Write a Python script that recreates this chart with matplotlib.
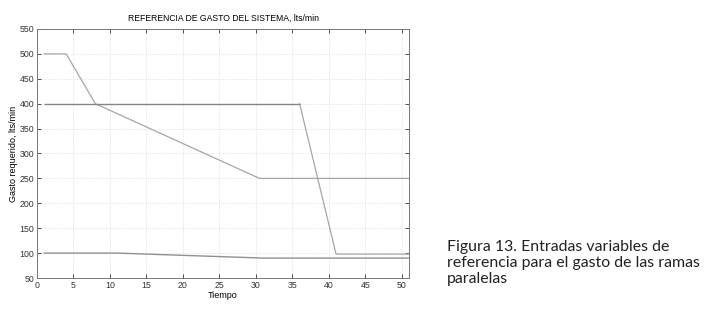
import matplotlib
matplotlib.use("Agg")
import matplotlib.pyplot as plt

t_a = [1, 4, 8, 30.5, 51]
q_a = [500, 500, 400, 250, 250]
t_b = [1, 36, 41, 51]
q_b = [400, 400, 98, 98]
t_c = [1, 11, 31, 51]
q_c = [100, 100, 90, 90]
xticks = list(range(0, 55, 5))
yticks = list(range(50, 600, 50))

plt.rcParams['font.family'] = ['Liberation Sans Narrow', 'Liberation Sans', 'DejaVu Sans']
fig = plt.figure(figsize=(7.14, 3.30), dpi=100)
ax = fig.add_axes([37/714, 1-278/330, (409-37)/714, (278-29)/330])
ax.plot(t_a, q_a, color='#a6a6a6', lw=0.9)
ax.plot(t_b[1:], q_b[1:], color='#a6a6a6', lw=0.9)
ax.plot(t_b[:2], q_b[:2], color='#858585', lw=1.0, solid_capstyle='butt')
ax.plot(t_c, q_c, color='#909090', lw=1.0)
ax.set_xlim(0, 51)
ax.set_ylim(50, 550)
ax.set_xticks(xticks)
ax.set_yticks(yticks)
ax.tick_params(direction='in', top=True, right=True, labelsize=6.3, length=3, colors='#333333', width=0.6, pad=2)
ax.grid(True, linestyle=':', color='#d8d8d8', lw=0.6)
for s in ax.spines.values():
    s.set_color('#777777'); s.set_linewidth(0.7)
ax.set_title('REFERENCIA DE GASTO DEL SISTEMA, lts/min', fontsize=6.2, pad=6)
ax.set_xlabel('Tiempo', fontsize=6.5, labelpad=1)
ax.set_ylabel('Gasto requerido, lts/min', fontsize=6.5, labelpad=1)
fig.text(447/714, 1-263/330, 'Figura 13. Entradas variables de\nreferencia para el gasto de las ramas\nparalelas',
         fontsize=11.4, family=['Lato', 'DejaVu Sans'], va='center', ha='left', color='#222222', linespacing=1.17)
fig.savefig('out.png', dpi=100)
